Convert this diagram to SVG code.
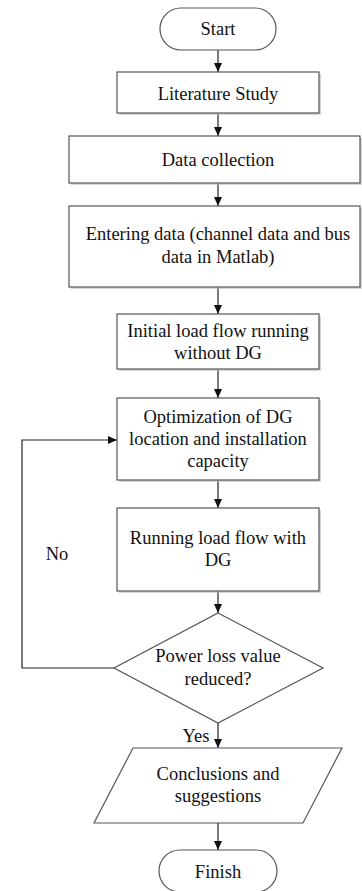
<svg xmlns="http://www.w3.org/2000/svg" width="362" height="891" viewBox="0 0 362 891">
<defs>
<style>
.shape{fill:#fff;stroke:#555;stroke-width:1.2}
.sh{fill:#bbb;opacity:0.6}
.t{font-size:18.5px;fill:#111;text-anchor:middle}
.c{fill:none;stroke:#222;stroke-width:1.2}
</style>
<marker id="ah" markerWidth="10" markerHeight="10" refX="9" refY="5" orient="auto" markerUnits="userSpaceOnUse">
<path d="M0,1 L9,5 L0,9 Z" fill="#111"/>
</marker>
</defs>
<rect width="362" height="891" fill="#fff"/>
<g font-family="Liberation Serif, Times New Roman, DejaVu Serif, serif">
<g id="connectors">
<line class="c" x1="218" y1="50" x2="218" y2="72" marker-end="url(#ah)"/>
<line class="c" x1="218" y1="113" x2="218" y2="136" marker-end="url(#ah)"/>
<line class="c" x1="218" y1="183" x2="218" y2="206" marker-end="url(#ah)"/>
<line class="c" x1="218" y1="287" x2="218" y2="314" marker-end="url(#ah)"/>
<line class="c" x1="218" y1="369" x2="218" y2="398" marker-end="url(#ah)"/>
<line class="c" x1="218" y1="480" x2="218" y2="508" marker-end="url(#ah)"/>
<line class="c" x1="218" y1="591" x2="218" y2="613" marker-end="url(#ah)"/>
<line class="c" x1="218" y1="723" x2="218" y2="748" marker-end="url(#ah)"/>
<line class="c" x1="218" y1="823" x2="218" y2="850" marker-end="url(#ah)"/>
<polyline class="c" points="114,668 22,668 22,440 117,440" marker-end="url(#ah)"/>
<text class="t" x="57" y="560">No</text>
<text class="t" x="196" y="742">Yes</text>
</g>
<g id="start">
<rect class="shape" x="160" y="8" width="116" height="42" rx="21"/>
<text class="t" x="218" y="35">Start</text>
</g>
<g id="literature">
<rect class="sh" x="119" y="74" width="202" height="41"/>
<rect class="shape" x="117" y="72" width="202" height="41"/>
<text class="t" x="218" y="100">Literature Study</text>
</g>
<g id="datacollection">
<rect class="sh" x="71" y="138" width="291" height="47"/>
<rect class="shape" x="69" y="136" width="291" height="47"/>
<text class="t" x="218" y="166">Data collection</text>
</g>
<g id="entering">
<rect class="sh" x="71" y="208" width="291" height="81"/>
<rect class="shape" x="69" y="206" width="291" height="81"/>
<text class="t" x="218" y="240">Entering data (channel data and bus</text>
<text class="t" x="218" y="263">data in Matlab)</text>
</g>
<g id="initial">
<rect class="sh" x="119" y="316" width="202" height="55"/>
<rect class="shape" x="117" y="314" width="202" height="55"/>
<text class="t" x="218" y="337">Initial load flow running</text>
<text class="t" x="218" y="359">without DG</text>
</g>
<g id="optimization">
<rect class="sh" x="119" y="400" width="202" height="82"/>
<rect class="shape" x="117" y="398" width="202" height="82"/>
<text class="t" x="218" y="423">Optimization of DG</text>
<text class="t" x="218" y="445">location and installation</text>
<text class="t" x="218" y="467">capacity</text>
</g>
<g id="running">
<rect class="sh" x="119" y="510" width="202" height="83"/>
<rect class="shape" x="117" y="508" width="202" height="83"/>
<text class="t" x="218" y="544">Running load flow with</text>
<text class="t" x="218" y="566">DG</text>
</g>
<g id="decision">
<polygon class="shape" points="218,613 323,668 218,723 114,668"/>
<text class="t" x="218" y="662">Power loss value</text>
<text class="t" x="218" y="685">reduced?</text>
</g>
<g id="conclusions">
<polygon class="shape" points="133,748 342,748 303,823 94,823"/>
<text class="t" x="218" y="780">Conclusions and</text>
<text class="t" x="218" y="802">suggestions</text>
</g>
<g id="finish">
<rect class="shape" x="159" y="850" width="118" height="42" rx="21"/>
<text class="t" x="218" y="878">Finish</text>
</g>
</g>
</svg>
